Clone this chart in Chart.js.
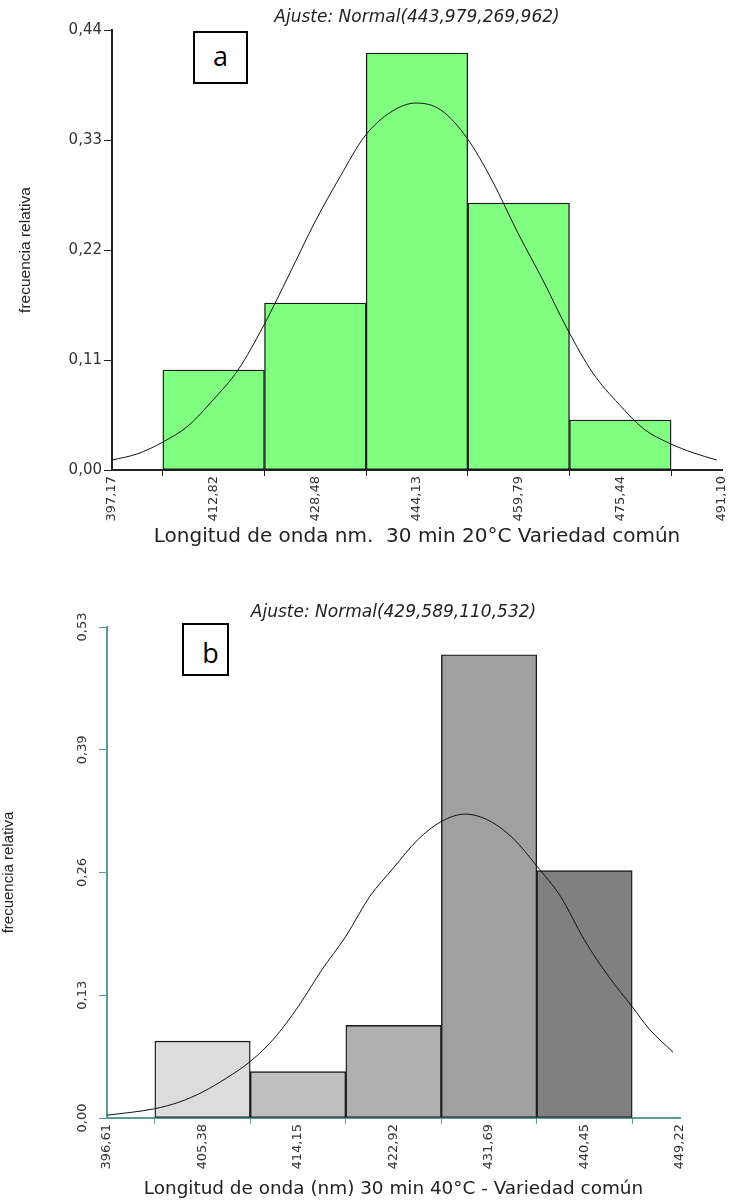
<!DOCTYPE html>
<html>
<head>
<meta charset="utf-8">
<script src="https://cdn.jsdelivr.net/npm/chart.js@4.4.0/dist/chart.umd.min.js"></script>
<style>
  body{margin:0;background:#fff;width:731px;height:1200px;position:relative;overflow:hidden}
  canvas{position:absolute;left:0}
  #chartA{top:0}
  #chartB{top:560px}
  .tag{position:absolute;box-sizing:border-box;border:2px solid #000;background:#fff;
       font-family:"Open Sans","Liberation Sans",sans-serif;font-size:27px;line-height:1;
       display:flex;justify-content:center;align-items:center}
</style>
</head>
<body>
<canvas id="chartA" width="731" height="560"></canvas>
<canvas id="chartB" width="731" height="640"></canvas>
<div class="tag" style="left:193px;top:31px;width:55px;height:53px;padding-bottom:4px">a</div>
<div class="tag" style="left:182px;top:623px;width:47px;height:53px;padding-left:10px;padding-top:6px">b</div>

<script>
// ---- grafico a (20°C) ----
const xTicksA = [397.17, 412.82, 428.48, 444.13, 459.79, 475.44, 491.10];
const yTicksA = [0, 0.11, 0.22, 0.33, 0.44];
const yLabelsA = ['0,00', '0,11', '0,22', '0,33', '0,44'];
const binsA = [412.82, 428.48, 444.13, 459.79, 475.44];
const freqA = [0.100, 0.167, 0.417, 0.267, 0.050];
const curveXA = [397.17, 401.02, 405.02, 408.87, 412.72, 416.57, 420.57, 424.42, 428.42,
                 432.27, 436.12, 440.12, 443.97, 447.81, 451.82, 455.66, 459.67, 463.51,
                 467.36, 471.21, 475.21, 479.06, 482.91, 486.76, 490.30];
const curveYA = [0.010, 0.016, 0.028, 0.044, 0.070, 0.100, 0.145, 0.195, 0.248,
                 0.293, 0.334, 0.358, 0.367, 0.360, 0.332, 0.290, 0.237, 0.190,
                 0.140, 0.097, 0.066, 0.041, 0.027, 0.017, 0.010];

// ---- grafico b (40°C) ----
const xTicksB = [396.61, 405.38, 414.15, 422.92, 431.69, 440.45, 449.22];
const yTicksB = [0, 0.1325, 0.265, 0.3975, 0.53];
const yLabelsB = ['0,00', '0,13', '0,26', '0,39', '0,53'];
const binsB = [405.38, 414.15, 422.92, 431.69, 440.45];
const freqB = [0.083, 0.050, 0.100, 0.500, 0.267];
const colorsB = ['#dcdcdc', '#c0c0c0', '#b0b0b0', '#a0a0a0', '#808080'];
const curveXB = [396.61, 400.99, 403.20, 405.38, 407.57, 409.76, 411.96, 414.15, 416.34,
                 418.53, 420.73, 422.92, 425.11, 427.30, 429.50, 431.69, 433.88, 436.07,
                 438.26, 440.45, 442.65, 444.84, 446.40, 448.58];
const curveYB = [0.003, 0.010, 0.017, 0.028, 0.043, 0.061, 0.086, 0.120, 0.160,
                 0.196, 0.239, 0.270, 0.300, 0.320, 0.328, 0.321, 0.302, 0.272,
                 0.239, 0.192, 0.153, 0.120, 0.096, 0.071];

const fmt = v => v.toFixed(2).replace('.', ',');

function histograma(id, c){
  return new Chart(document.getElementById(id), {
    type: 'bar',
    data: {
      datasets: [
        {
          type: 'line',
          data: c.curveX.map((x, i) => ({x: x, y: c.curveY[i]})),
          borderColor: '#111', borderWidth: 1, pointRadius: 0,
          cubicInterpolationMode: 'monotone', order: 0
        },
        {
          type: 'bar',
          data: c.bins.map((x, i) => ({x: x, y: c.freq[i]})),
          backgroundColor: c.colors, borderColor: '#1a1a1a', borderWidth: 1.4,
          borderSkipped: false, barPercentage: 1, categoryPercentage: 1, order: 1
        }
      ]
    },
    options: {
      responsive: false,
      animation: false,
      layout: {padding: {top: 0, right: c.padRight, left: 0, bottom: 0}},
      plugins: {
        legend: {display: false},
        tooltip: {enabled: false},
        title: {
          display: true, text: c.title, fullSize: false, color: '#222',
          font: {family: 'DejaVu Sans', size: 17, style: 'italic', weight: 'normal', lineHeight: 1},
          padding: c.titlePad
        }
      },
      scales: {
        x: {
          type: 'linear', offset: false,
          min: c.xTicks[0], max: c.xTicks[c.xTicks.length - 1],
          afterBuildTicks: s => { s.ticks = c.xTicks.map(v => ({value: v})); },
          // altura fija y sin relleno extra a la derecha (lo da layout.padding)
          afterFit: s => { s.height = c.xH; s.paddingRight = 0; },
          ticks: {
            autoSkip: false, minRotation: 90, maxRotation: 90, padding: 0, color: '#333',
            font: {family: 'DejaVu Sans', size: 13},
            callback: v => fmt(v)
          },
          grid: {drawOnChartArea: false, tickLength: 6, color: c.axis},
          border: {color: c.axis, width: 2},
          title: {
            display: true, text: c.xTitle, color: '#222',
            font: {family: 'DejaVu Sans', size: c.xTitleSize},
            padding: {top: 0, bottom: c.xTitlePad}
          }
        },
        y: {
          min: 0, max: c.yTicks[c.yTicks.length - 1],
          afterBuildTicks: s => { s.ticks = c.yTicks.map(v => ({value: v})); },
          afterFit: s => { s.width = c.yW; },
          ticks: Object.assign({
            color: '#333', font: {family: 'DejaVu Sans', size: c.yFont},
            callback: (v, i) => c.yLabels[i]
          }, c.yTickOpts),
          grid: {drawOnChartArea: false, tickLength: 8, color: c.axis},
          border: {color: c.axis, width: 2},
          title: {
            display: true, text: 'frecuencia relativa', color: '#222',
            font: c.yTitleFont,
            padding: {top: c.yTitlePad, bottom: 0}
          }
        }
      }
    }
  });
}

histograma('chartA', {
  title: 'Ajuste: Normal(443,979,269,962)',
  titlePad: {top: 9, bottom: 4},
  xTitle: 'Longitud de onda nm.  30 min 20°C Variedad común',
  xTitleSize: 20, xTitlePad: 11,
  xTicks: xTicksA, yTicks: yTicksA, yLabels: yLabelsA,
  bins: binsA, freq: freqA, colors: '#80ff80',
  curveX: curveXA, curveY: curveYA,
  axis: '#222', padRight: 9, xH: 90, yW: 112,
  yFont: 15, yTickOpts: {padding: 2},
  yTitleFont: {family: '"Liberation Sans", sans-serif', size: 15.5},
  yTitlePad: 16
});

histograma('chartB', {
  title: 'Ajuste: Normal(429,589,110,532)',
  titlePad: {top: 44, bottom: 6},
  xTitle: 'Longitud de onda (nm) 30 min 40°C - Variedad común',
  xTitleSize: 18.4, xTitlePad: 0,
  xTicks: xTicksB, yTicks: yTicksB, yLabels: yLabelsB,
  bins: binsB, freq: freqB, colors: colorsB,
  curveX: curveXB, curveY: curveYB,
  axis: '#5a9c9c', padRight: 51, xH: 82, yW: 107,
  yFont: 13, yTickOpts: {minRotation: 90, maxRotation: 90, crossAlign: 'center', padding: 2},
  yTitleFont: {family: '"Liberation Sans", sans-serif', size: 15},
  yTitlePad: 0
});
</script>
</body>
</html>
